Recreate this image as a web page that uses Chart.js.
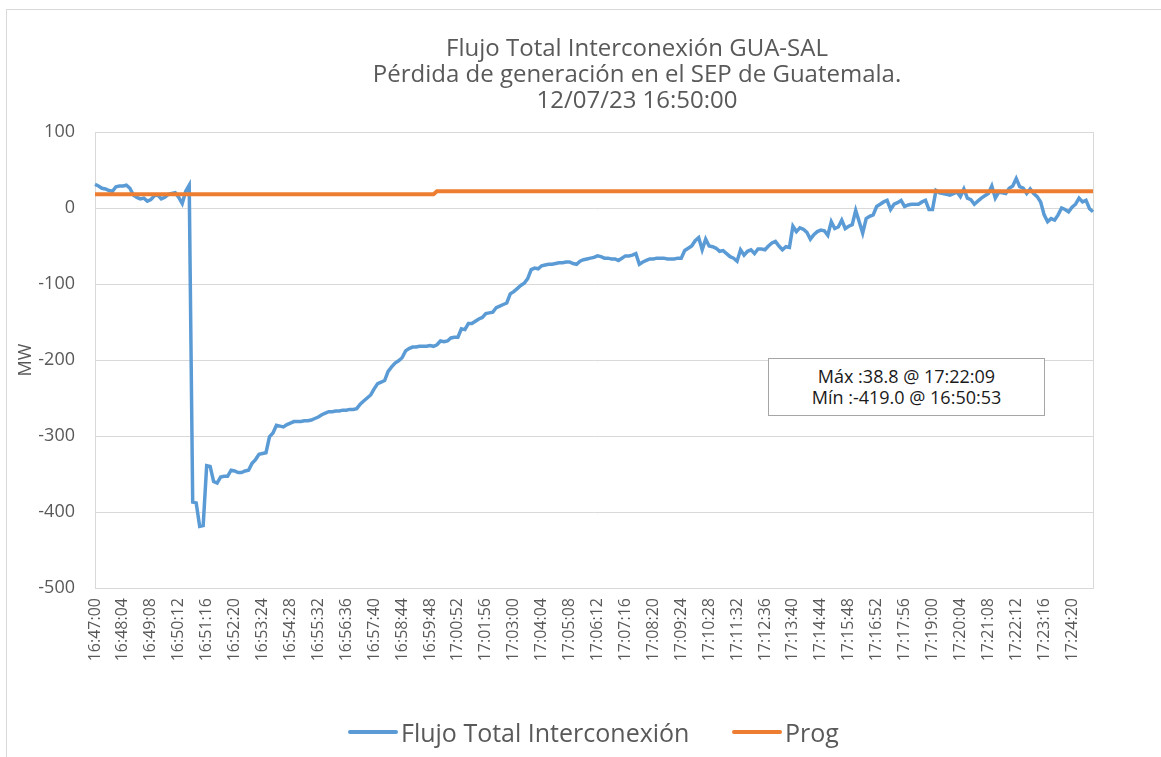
<!DOCTYPE html>
<html>
<head>
<meta charset="utf-8">
<script src="https://cdn.jsdelivr.net/npm/chart.js@4.4.0/dist/chart.umd.min.js"></script>
<style>
  body { margin: 0; width: 1161px; height: 757px; overflow: hidden; background: #fff; position: relative; font-family: "Open Sans", sans-serif; }
  .frame { position: absolute; left: 6px; top: 9px; width: 1200px; height: 800px; border: 1.5px solid #d9d9d9; }
  #c { position: absolute; left: 0; top: 0; }
  .title { position: absolute; left: 0; width: 1274px; top: 34px; text-align: center; color: #595959; font-size: 24px; line-height: 26px; }
  .note { position: absolute; left: 768px; top: 358px; width: 277px; height: 58px; border: 1px solid #a6a6a6; background: #fff;
          font-size: 18px; line-height: 21px; color: #1a1a1a; text-align: center; box-sizing: border-box; padding-top: 7px; }
  .legend { position: absolute; top: 716px; left: 0; width: 1161px; height: 32px; color: #595959; font-size: 25px; }
  .legend .item { position: absolute; top: 0; display: flex; align-items: center; height: 32px; }
  .legend .swatch { width: 50px; height: 3.5px; margin-right: 3px; border-radius: 2px; }
</style>
</head>
<body>
<div class="frame"></div>
<canvas id="c" width="1161" height="757"></canvas>
<div class="title">Flujo Total Interconexión GUA-SAL<br>Pérdida de generación en el SEP de Guatemala.<br>12/07/23 16:50:00</div>
<div class="note">Máx :38.8 @ 17:22:09<br>Mín :-419.0 @ 16:50:53</div>
<div class="legend" id="legend"></div>
<script>
// datos: una muestra cada 8 s desde 16:47:00
const START_TIME = "16:47:00";
const STEP_SECONDS = 8;

const TICK_LABELS = [
  "16:47:00", "16:48:04", "16:49:08", "16:50:12", "16:51:16", "16:52:20", "16:53:24", "16:54:28",
  "16:55:32", "16:56:36", "16:57:40", "16:58:44", "16:59:48", "17:00:52", "17:01:56", "17:03:00",
  "17:04:04", "17:05:08", "17:06:12", "17:07:16", "17:08:20", "17:09:24", "17:10:28", "17:11:32",
  "17:12:36", "17:13:40", "17:14:44", "17:15:48", "17:16:52", "17:17:56", "17:19:00", "17:20:04",
  "17:21:08", "17:22:12", "17:23:16", "17:24:20",
];

const FLUJO = [
  31, 29, 26, 25, 23, 22, 28, 29, 29, 30, 26, 17, 14, 12, 13, 9, 11, 16, 17, 12,
  14, 18, 19, 20, 14, 6, 22, 30, -387, -388, -419, -418, -339, -340, -360, -362, -354, -353, -353, -345,
  -346, -348, -348, -346, -345, -336, -331, -324, -323, -322, -301, -296, -286, -287, -288, -285, -283, -281, -281, -281,
  -280, -280, -279, -277, -275, -272, -270, -268, -268, -267, -267, -266, -266, -265, -265, -264, -258, -254, -250, -246,
  -238, -231, -229, -227, -215, -209, -204, -201, -197, -188, -185, -183, -183, -182, -182, -182, -181, -182, -180, -175,
  -176, -175, -171, -170, -170, -159, -160, -152, -152, -149, -146, -144, -139, -138, -137, -131, -129, -127, -125, -113,
  -110, -106, -102, -99, -93, -81, -79, -80, -76, -75, -74, -74, -73, -72, -72, -71, -71, -73, -74, -70,
  -68, -67, -66, -65, -63, -64, -66, -66, -67, -67, -69, -66, -63, -63, -62, -60, -74, -71, -69, -67,
  -67, -66, -66, -66, -67, -67, -67, -66, -66, -56, -53, -50, -43, -39, -55, -41, -50, -51, -53, -57,
  -56, -60, -64, -66, -70, -55, -62, -57, -55, -60, -54, -54, -55, -50, -46, -44, -50, -55, -51, -52,
  -24, -31, -26, -28, -32, -41, -35, -31, -29, -30, -36, -18, -27, -25, -16, -27, -24, -22, -3, -18,
  -33, -14, -11, -9, 2, 5, 8, 10, -2, 5, 7, 10, 2, 4, 5, 5, 5, 8, 10, -2,
  -2, 23, 20, 19, 18, 17, 19, 21, 15, 25, 13, 11, 5, 9, 13, 16, 19, 29, 13, 21,
  20, 19, 26, 29, 38.8, 28, 26, 19, 25, 19, 15, 8, -9, -18, -14, -16, -9, 0, -2, -5,
  1, 5, 13, 8, 10, -1, -5,
];

// programado: escalón de 18 a 22 MW
const PROG_TIMES = ["16:47:00", "16:59:56", "17:00:04", "17:25:08"];
const PROG_VALUES = [18, 18, 22, 22];

const BLUE = "#5B9BD5";
const ORANGE = "#ED7D31";
const GRID = "#d9d9d9";
const AXIS = "#bfbfbf";
const TEXT = "#595959";

function toSec(t) {
  const [h, m, s] = t.split(":").map(Number);
  return h * 3600 + m * 60 + s;
}
function fmt(sec) {
  const p = (n) => String(n).padStart(2, "0");
  return `${p(Math.floor(sec / 3600))}:${p(Math.floor(sec / 60) % 60)}:${p(sec % 60)}`;
}
const CATEGORIES = FLUJO.map((_, i) => fmt(toSec(START_TIME) + i * STEP_SECONDS));
const TICK_EVERY = 64 / STEP_SECONDS;

// marco gris alrededor del área de trazado
const plotBorder = {
  id: "plotBorder",
  beforeDatasetsDraw(chart) {
    const { ctx, chartArea: a } = chart;
    ctx.save();
    ctx.strokeStyle = GRID;
    ctx.lineWidth = 1;
    ctx.strokeRect(a.left + 0.5, a.top + 0.5, a.right - a.left, a.bottom - a.top);
    ctx.restore();
  },
};

const chart = new Chart(document.getElementById("c"), {
  type: "line",
  data: {
    labels: CATEGORIES,
    datasets: [
      {
        label: "Flujo Total Interconexión",
        data: FLUJO,
        borderColor: BLUE,
        borderWidth: 3.5,
        pointRadius: 0,
        tension: 0,
        order: 1,
      },
      {
        label: "Prog",
        data: PROG_TIMES.map((t, k) => ({ x: t, y: PROG_VALUES[k] })),
        borderColor: ORANGE,
        borderWidth: 4,
        pointRadius: 0,
        tension: 0,
        order: 0,
      },
    ],
  },
  plugins: [plotBorder],
  options: {
    responsive: false,
    animation: false,
    devicePixelRatio: 1,
    layout: { padding: { left: 12, right: 68, top: 132, bottom: 59 } },
    plugins: { legend: { display: false }, title: { display: false }, tooltip: { enabled: false } },
    scales: {
      x: {
        type: "category",
        offset: false,
        grid: { display: false, drawTicks: false },
        border: { color: AXIS, width: 1 },
        afterFit: (s) => { s.height = 110; },
        ticks: {
          autoSkip: false,
          minRotation: 90,
          maxRotation: 90,
          padding: 10,
          color: TEXT,
          font: { family: "Open Sans", size: 16 },
          callback: (v, i) => (i % TICK_EVERY === 0 ? TICK_LABELS[i / TICK_EVERY] : null),
        },
      },
      y: {
        min: -500,
        max: 100,
        grid: { color: GRID, lineWidth: 1, drawTicks: false },
        border: { color: AXIS, width: 1 },
        afterFit: (s) => { s.width = 83; },
        ticks: { stepSize: 100, padding: 20, color: TEXT, font: { family: "Open Sans", size: 18 } },
        title: { display: true, text: "MW", color: TEXT, padding: { top: 3, bottom: 0 }, font: { family: "Open Sans", size: 18 } },
      },
    },
  },
});

// leyenda en HTML, a partir de los datasets
const LEGEND_POS = [348, 732];
const legend = document.getElementById("legend");
chart.data.datasets.forEach((ds, k) => {
  const item = document.createElement("div");
  item.className = "item";
  item.style.left = LEGEND_POS[k] + "px";
  item.innerHTML = `<span class="swatch" style="background:${ds.borderColor}"></span><span>${ds.label}</span>`;
  legend.appendChild(item);
});
</script>
</body>
</html>
